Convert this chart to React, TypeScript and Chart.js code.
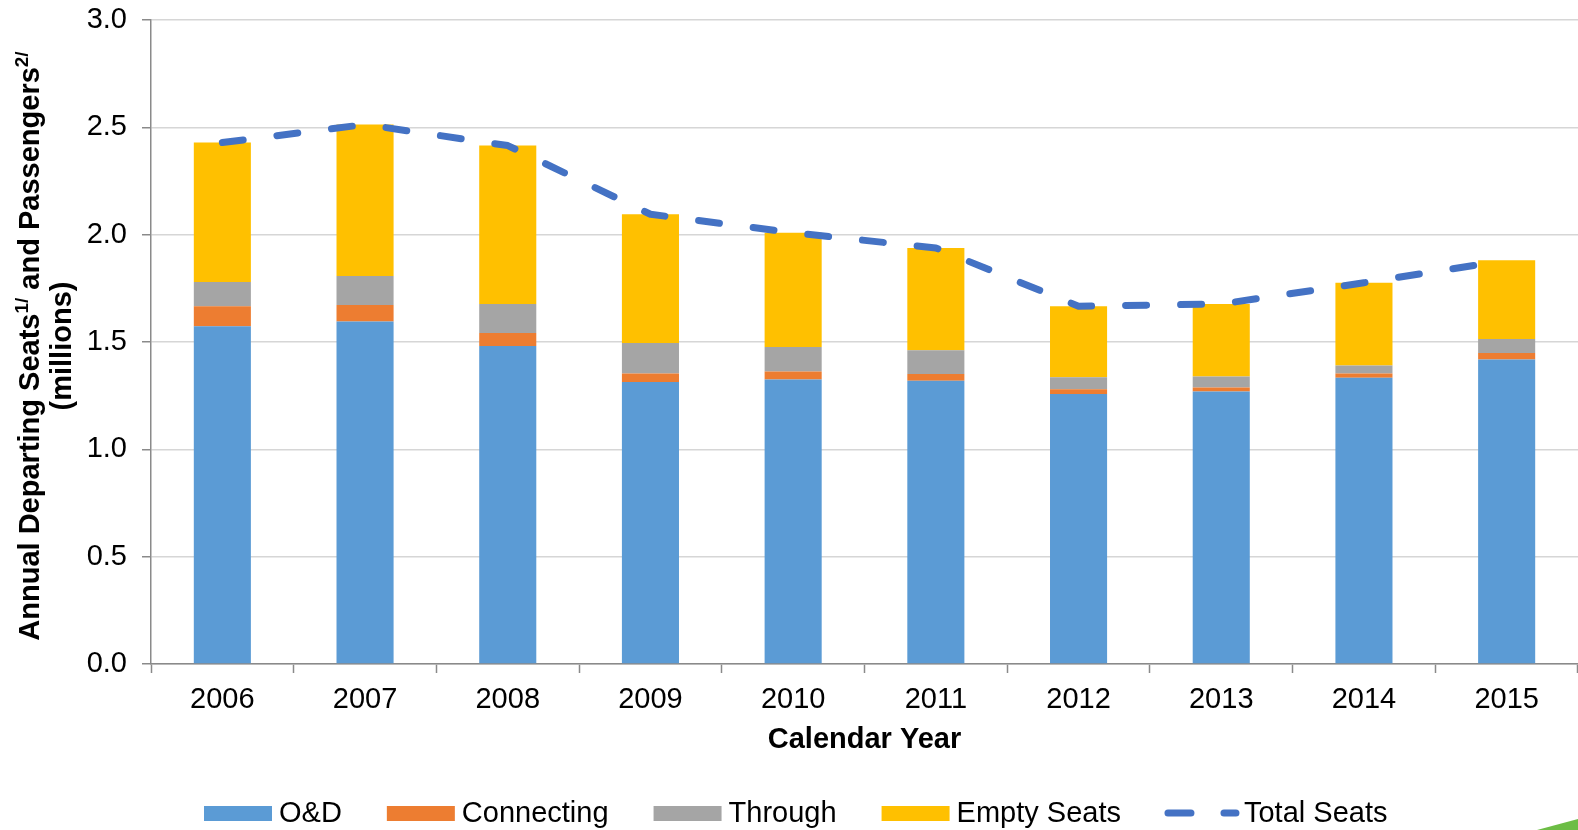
import React, { useEffect, useRef } from 'react';
import { Chart, registerables } from 'chart.js';

Chart.register(...registerables);

// Calendar years on the category axis
const years = ['2006', '2007', '2008', '2009', '2010', '2011', '2012', '2013', '2014', '2015'];

// Passenger segments (millions)
const odPassengers = [1.573, 1.596, 1.481, 1.314, 1.325, 1.319, 1.258, 1.269, 1.333, 1.419];
const connectingPassengers = [0.093, 0.076, 0.061, 0.039, 0.038, 0.032, 0.022, 0.019, 0.020, 0.030];
const throughPassengers = [0.114, 0.136, 0.135, 0.142, 0.114, 0.110, 0.056, 0.051, 0.038, 0.065];
const emptySeats = [0.649, 0.705, 0.738, 0.600, 0.532, 0.477, 0.331, 0.338, 0.385, 0.367];

// Total departing seats (millions)
const totalSeats = [2.429, 2.513, 2.415, 2.095, 2.009, 1.938, 1.667, 1.677, 1.776, 1.881];

// Axis range
const yMin = 0;
const yMax = 3;
const yStep = 0.5;

// Titles
const yTitleParts = [
  { text: 'Annual Departing Seats', sup: false },
  { text: '1/', sup: true },
  { text: ' and Passengers', sup: false },
  { text: '2/', sup: true },
];
const yTitleSecondLine = '(millions)';
const xTitle = 'Calendar Year';

const FONT = "'Liberation Sans', Arial, sans-serif";
const AXIS_GRAY = '#8a8a8a';

const decorPlugin = {
  id: 'decor',
  afterDraw(chart: any) {
    const ctx: CanvasRenderingContext2D = chart.ctx;
    const area = chart.chartArea;
    ctx.save();
    ctx.fillStyle = '#000000';

    // Rotated y-axis title with superscript notes
    ctx.save();
    ctx.translate(31, (area.top + area.bottom) / 2 + 4);
    ctx.rotate(-Math.PI / 2);
    const mainFont = `bold 29px ${FONT}`;
    const supFont = `bold 19px ${FONT}`;
    let total = 0;
    const widths = yTitleParts.map((p) => {
      ctx.font = p.sup ? supFont : mainFont;
      const w = ctx.measureText(p.text).width;
      total += w;
      return w;
    });
    let tx = -total / 2;
    ctx.textAlign = 'left';
    ctx.textBaseline = 'middle';
    yTitleParts.forEach((p, i) => {
      ctx.font = p.sup ? supFont : mainFont;
      ctx.fillText(p.text, tx, p.sup ? -8 : 0);
      tx += widths[i];
    });
    ctx.font = mainFont;
    ctx.textAlign = 'center';
    ctx.fillText(yTitleSecondLine, 0, 32);
    ctx.restore();

    // x-axis title
    ctx.font = `bold 29px ${FONT}`;
    ctx.textAlign = 'center';
    ctx.textBaseline = 'middle';
    ctx.fillText(xTitle, (area.left + area.right) / 2, 740);

    // Legend
    const cy = 813;
    let x = 204;
    ctx.font = `29px ${FONT}`;
    ctx.textAlign = 'left';
    chart.data.datasets.forEach((ds: any) => {
      let textX: number;
      if (ds.type === 'line') {
        ctx.strokeStyle = ds.borderColor;
        ctx.lineWidth = 7;
        ctx.lineCap = 'round';
        ctx.setLineDash([23, 33]);
        ctx.beginPath();
        ctx.moveTo(x + 2, cy);
        ctx.lineTo(x + 70, cy);
        ctx.stroke();
        ctx.setLineDash([]);
        textX = x + 78;
      } else {
        ctx.fillStyle = ds.backgroundColor;
        ctx.fillRect(x, cy - 7, 68, 15);
        textX = x + 75;
      }
      ctx.fillStyle = '#000000';
      ctx.fillText(ds.label, textX, cy + 1);
      x = textX + ctx.measureText(ds.label).width + 45;
    });

    // Corner accent
    const W = chart.width;
    const H = chart.height;
    ctx.fillStyle = '#6cbd45';
    ctx.beginPath();
    ctx.moveTo(W - 41, H);
    ctx.lineTo(W, H - 11);
    ctx.lineTo(W, H);
    ctx.closePath();
    ctx.fill();

    ctx.restore();
  },
};

export default function App() {
  const canvasRef = useRef<HTMLCanvasElement | null>(null);

  useEffect(() => {
    const canvas = canvasRef.current;
    if (!canvas) return;
    const barCommon = {
      type: 'bar' as const,
      stack: 'seats',
      order: 1,
      barPercentage: 0.4,
      categoryPercentage: 1,
      borderWidth: 0,
    };
    const chart = new Chart(canvas, {
      type: 'bar',
      data: {
        labels: years,
        datasets: [
          { ...barCommon, label: 'O&D', data: odPassengers, backgroundColor: '#5b9bd5' },
          { ...barCommon, label: 'Connecting', data: connectingPassengers, backgroundColor: '#ed7d31' },
          { ...barCommon, label: 'Through', data: throughPassengers, backgroundColor: '#a5a5a5' },
          { ...barCommon, label: 'Empty Seats', data: emptySeats, backgroundColor: '#ffc000' },
          {
            type: 'line' as const,
            label: 'Total Seats',
            data: totalSeats,
            stack: 'total',
            order: 0,
            borderColor: '#4472c4',
            backgroundColor: '#4472c4',
            borderWidth: 7,
            borderDash: [21, 34],
            borderCapStyle: 'round',
            borderJoinStyle: 'round',
            pointRadius: 0,
            pointHoverRadius: 0,
            tension: 0,
            fill: false,
          },
        ] as any,
      },
      options: {
        responsive: false,
        animation: false,
        devicePixelRatio: 1,
        layout: { padding: { top: 20, right: 0, bottom: 0, left: 0 } },
        plugins: {
          legend: { display: false },
          tooltip: { enabled: false },
          title: { display: false },
        },
        scales: {
          x: {
            stacked: true,
            offset: true,
            grid: {
              display: true,
              offset: true,
              drawOnChartArea: false,
              drawTicks: true,
              tickLength: 9,
              tickColor: AXIS_GRAY,
              tickWidth: 1.5,
            },
            border: { display: true, color: AXIS_GRAY, width: 1.5 },
            ticks: {
              color: '#000000',
              font: { family: FONT, size: 29 },
              padding: 10,
              maxRotation: 0,
              autoSkip: false,
            },
            afterFit: (scale: any) => {
              scale.height = 166;
              scale.paddingLeft = 0;
              scale.paddingRight = 0;
            },
          },
          y: {
            stacked: true,
            min: yMin,
            max: yMax,
            grid: {
              color: '#d6d6d6',
              lineWidth: 1.5,
              drawTicks: true,
              tickLength: 9,
              tickColor: AXIS_GRAY,
              tickWidth: 1.5,
            },
            border: { display: true, color: AXIS_GRAY, width: 1.5 },
            ticks: {
              stepSize: yStep,
              color: '#000000',
              font: { family: FONT, size: 29 },
              padding: 15,
              callback: (v: any) => Number(v).toFixed(1),
            },
            afterFit: (scale: any) => {
              scale.width = 151;
              scale.paddingTop = 0;
              scale.paddingBottom = 0;
            },
          },
        },
      },
      plugins: [decorPlugin],
    });
    return () => chart.destroy();
  }, []);

  return (
    <div style={{ position: 'fixed', left: 0, top: 0, width: 1578, height: 830, background: '#ffffff' }}>
      <canvas ref={canvasRef} width={1578} height={830} style={{ display: 'block' }} />
    </div>
  );
}
